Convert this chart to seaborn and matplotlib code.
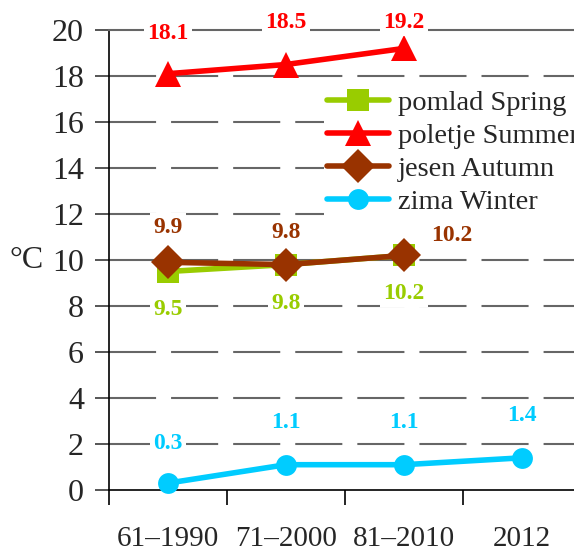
import pandas as pd
import matplotlib
matplotlib.use("Agg")
import matplotlib.pyplot as plt
import seaborn as sns

# Data
periods = ['61–1990', '71–2000', '81–2010', '2012']
spring = [9.5, 9.8, 10.2]
summer = [18.1, 18.5, 19.2]
autumn = [9.9, 9.8, 10.2]
winter = [0.3, 1.1, 1.1, 1.4]
series_names = ['pomlad Spring', 'poletje Summer', 'jesen Autumn', 'zima Winter']
series_values = [spring, summer, autumn, winter]

# Styles
colors = ['#99CC00', '#FF0000', '#993300', '#00CCFF']
markers = ['s', '^', 'D', 'o']
marker_sizes = [16, 19, 17, 15]
# label offsets in pixels (dx, dy) relative to each point
label_offsets = [
    [(0, -38), (0, -39), (0, -38)],
    [(0, 40), (0, 42), (0, 26)],
    [(0, 35), (0, 32), (48, 20)],
    [(0, 40), (0, 42), (0, 42), (0, 42)],
]

# Long table for seaborn
rows = []
for name, vals in zip(series_names, series_values):
    for p, v in zip(periods, vals):
        rows.append({'period': p, 'temp': v, 'season': name})
df = pd.DataFrame(rows)
df['x'] = df['period'].map({p: i for i, p in enumerate(periods)})

sns.set_style('white')
plt.rcParams['font.family'] = ['Liberation Serif', 'DejaVu Serif']

fig = plt.figure(figsize=(5.74, 5.51), dpi=100)
ax = fig.add_axes([109 / 574, 61 / 551, 472 / 574, 460 / 551])

sns.lineplot(data=df, x='x', y='temp', hue='season', style='season',
             hue_order=series_names, style_order=series_names,
             palette=dict(zip(series_names, colors)),
             markers=dict(zip(series_names, markers)), dashes=False,
             linewidth=4, markeredgewidth=0, legend=False, ax=ax, sort=False)

for line, ms in zip(ax.lines, marker_sizes):
    line.set_markersize(ms)
    line.set_clip_on(False)
    line.set_zorder(3)

# data labels
for vals, col, offs in zip(series_values, colors, label_offsets):
    for i, (v, off) in enumerate(zip(vals, offs)):
        ax.annotate(f'{v:.1f}', (i, v), xytext=off, textcoords='offset pixels',
                    ha='center', va='center', color=col, fontsize=17,
                    fontweight='bold', zorder=4,
                    bbox=dict(boxstyle='square,pad=0.15', fc='white', ec='none'))

ax.set_xlim(-0.5, 3.5)
ax.set_ylim(0, 20)
ax.set_yticks(range(0, 21, 2))
ax.set_xticks(range(len(periods)))
ax.set_xticklabels(periods)
ax.set_xticks([-0.5, 0.5, 1.5, 2.5, 3.5], minor=True)
ax.tick_params(axis='x', which='major', length=0, pad=26, labelsize=21)
ax.tick_params(axis='x', which='minor', length=11, width=1.2, direction='out',
               bottom=True, color='black')
ax.tick_params(axis='y', length=10, width=1.4, direction='out', left=True,
               pad=8, labelsize=23, color='#555555')
ax.set_xlabel('')
ax.set_ylabel('°C', fontsize=23, rotation=0, va='center')
ax.yaxis.set_label_coords(-0.175, 0.5)

for y in range(2, 20, 2):
    ax.axhline(y, color='#666666', lw=1.5, ls=(0, (22.6, 7.2)), zorder=1)

ax.spines['left'].set_color('black')
ax.spines['left'].set_linewidth(1.2)
ax.spines['bottom'].set_color('black')
ax.spines['bottom'].set_linewidth(1.2)
ax.spines['top'].set_color('#666666')
ax.spines['top'].set_linewidth(1.5)
ax.spines['right'].set_visible(False)

leg = ax.legend(ax.lines, series_names, loc='upper left', bbox_to_anchor=(0.455, 0.875),
                frameon=True, fancybox=False, facecolor='white', edgecolor='none',
                framealpha=1, fontsize=20.5, handlelength=2.2, handletextpad=0.3,
                labelspacing=0.25, borderaxespad=0, borderpad=0.1)
leg.set_zorder(2)

fig.savefig('out.png', dpi=100)
